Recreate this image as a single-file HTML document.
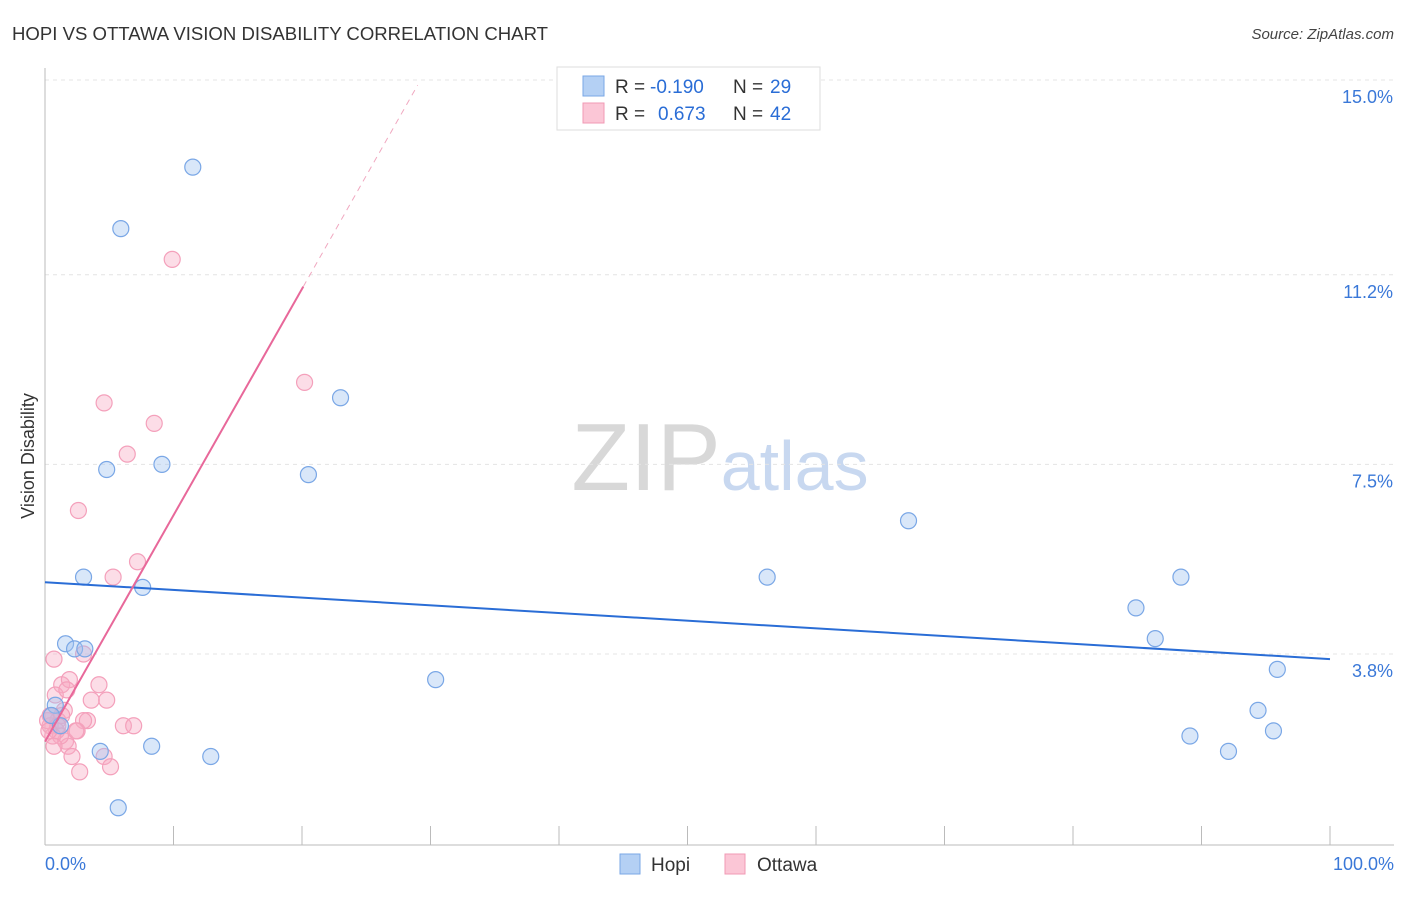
<!DOCTYPE html>
<html><head><meta charset="utf-8"><style>
body{margin:0;background:#fff;font-family:"Liberation Sans",sans-serif;}
svg text{font-family:"Liberation Sans",sans-serif;}
</style></head><body>
<svg id="chart" width="1406" height="892" xmlns="http://www.w3.org/2000/svg">
<text x="12" y="40" font-size="18" fill="#333" textLength="536" lengthAdjust="spacingAndGlyphs">HOPI VS OTTAWA VISION DISABILITY CORRELATION CHART</text>
<text x="1394" y="39" font-size="15" fill="#444" text-anchor="end" font-style="italic">Source: ZipAtlas.com</text>
<text x="720" y="490" font-size="96" text-anchor="middle" fill="#d8d8d8" font-family="Liberation Serif">ZIP<tspan fill="#c8d8f0" font-family="Liberation Sans" font-size="70">atlas</tspan></text>
<text transform="translate(34,456) rotate(-90)" font-size="18" fill="#333" text-anchor="middle">Vision Disability</text>
<g id="grid"></g>
<g id="axes"></g>
<g id="marks"></g>
<g>
<rect x="557" y="67" width="263" height="63" fill="#fff" stroke="#ddd"/>
<rect x="583" y="76" width="21" height="20" fill="#b4d0f4" stroke="#7aa7e6"/>
<rect x="583" y="103" width="21" height="20" fill="#fbc6d6" stroke="#f09ab4"/>
<text x="615" y="93" font-size="19" fill="#333">R =</text>
<text x="650" y="93" font-size="19" fill="#2a6dd6">-0.190</text>
<text x="733" y="93" font-size="19" fill="#333">N =</text>
<text x="770" y="93" font-size="19" fill="#2a6dd6">29</text>
<text x="615" y="120" font-size="19" fill="#333">R =</text>
<text x="658" y="120" font-size="19" fill="#2a6dd6">0.673</text>
<text x="733" y="120" font-size="19" fill="#333">N =</text>
<text x="770" y="120" font-size="19" fill="#2a6dd6">42</text>
</g>
<g>
<rect x="620" y="854" width="20" height="20" fill="#b4d0f4" stroke="#7aa7e6"/>
<text x="651" y="871" font-size="19" fill="#333">Hopi</text>
<rect x="725" y="854" width="20" height="20" fill="#fbc6d6" stroke="#f09ab4"/>
<text x="757" y="871" font-size="19" fill="#333">Ottawa</text>
</g>
</svg>
<script>
const yTicks=[3.8,7.5,11.2,15.0];
const yTickLabels=["3.8%","7.5%","11.2%","15.0%"];
const xTickCount=10;
const hopiX=[11.5,5.9,23.0,4.8,9.1,20.5,67.2,3.0,7.6,56.2,88.4,84.9,86.4,1.6,2.3,3.1,30.4,95.9,0.8,1.2,94.4,89.1,95.6,4.3,8.3,92.1,12.9,5.7,0.5];
const hopiY=[13.3,12.1,8.8,7.4,7.5,7.3,6.4,5.3,5.1,5.3,5.3,4.7,4.1,4.0,3.9,3.9,3.3,3.5,2.8,2.4,2.7,2.2,2.3,1.9,2.0,1.9,1.8,0.8,2.6];
const ottX=[9.9,20.2,4.6,8.5,6.4,2.6,7.2,5.3,0.7,3.0,1.3,1.9,4.2,3.6,4.8,0.8,1.5,0.4,1.0,3.3,3.0,6.1,6.9,2.5,1.6,1.8,2.1,4.6,5.1,2.7,0.4,0.9,1.2,0.2,0.5,1.3,1.0,0.6,1.7,2.4,0.3,0.7];
const ottY=[11.5,9.1,8.7,8.3,7.7,6.6,5.6,5.3,3.7,3.8,3.2,3.3,3.2,2.9,2.9,3.0,2.7,2.6,2.5,2.5,2.5,2.4,2.4,2.3,2.1,2.0,1.8,1.8,1.6,1.5,2.4,2.3,2.2,2.5,2.6,2.6,2.4,2.2,3.1,2.3,2.3,2.0];
const hopiTrend=[5.2,3.7];
const ottTrend=[2.09,0.4417];
const X=v=>45+v*12.85, Y=v=>848.75-v*51.25;
const NS="http://www.w3.org/2000/svg";
function mk(p,t,a){const e=document.createElementNS(NS,t);for(const k in a)e.setAttribute(k,a[k]);document.getElementById(p).appendChild(e);return e;}
yTicks.forEach((t,i)=>{
 const l=mk('grid','line',{x1:45,x2:1394,y1:Y(t),y2:Y(t),stroke:'#e4e4e4','stroke-dasharray':'4,4'});
 
 
 const tx=mk('axes','text',{x:1393,y:Y(t)+23,'font-size':18,fill:'#3a78d8','text-anchor':'end'});
 tx.textContent=yTickLabels[i];
 
 
});
mk('axes','line',{x1:45,x2:45,y1:68,y2:845,stroke:'#bbb'});
mk('axes','line',{x1:45,x2:1394,y1:845,y2:845,stroke:'#bbb'});
for(let i=1;i<=xTickCount;i++){const t=mk('axes','line',{x1:X(i*10),x2:X(i*10),y1:826,y2:845,stroke:'#bbb'});
 
 }
let a=mk('axes','text',{x:45,y:870,'font-size':18,fill:'#3a78d8'});a.textContent='0.0%';
a=mk('axes','text',{x:1394,y:870,'font-size':18,fill:'#3a78d8','text-anchor':'end'});a.textContent='100.0%';
ottX.forEach((x,i)=>{const c=mk('marks','circle',{cx:X(x),cy:Y(ottY[i]),r:8,fill:'rgba(248,170,195,0.4)',stroke:'#f4a0bb','stroke-width':1.2});
 
 });
hopiX.forEach((x,i)=>{const c=mk('marks','circle',{cx:X(x),cy:Y(hopiY[i]),r:8,fill:'rgba(160,195,240,0.4)',stroke:'#7aa7e6','stroke-width':1.2});
 
 });
let l=mk('marks','line',{x1:X(0),y1:Y(hopiTrend[0]),x2:X(100),y2:Y(hopiTrend[1]),stroke:'#2a6dd6','stroke-width':2});


l=mk('marks','line',{x1:X(0),y1:Y(ottTrend[0]),x2:X(20.1),y2:Y(ottTrend[0]+ottTrend[1]*20.1),stroke:'#e8689a','stroke-width':2});


l=mk('marks','line',{x1:X(20.1),y1:Y(ottTrend[0]+ottTrend[1]*20.1),x2:X(29),y2:Y(ottTrend[0]+ottTrend[1]*29),stroke:'#f0a8c0','stroke-width':1,'stroke-dasharray':'6,5'});


</script>
</body></html>
